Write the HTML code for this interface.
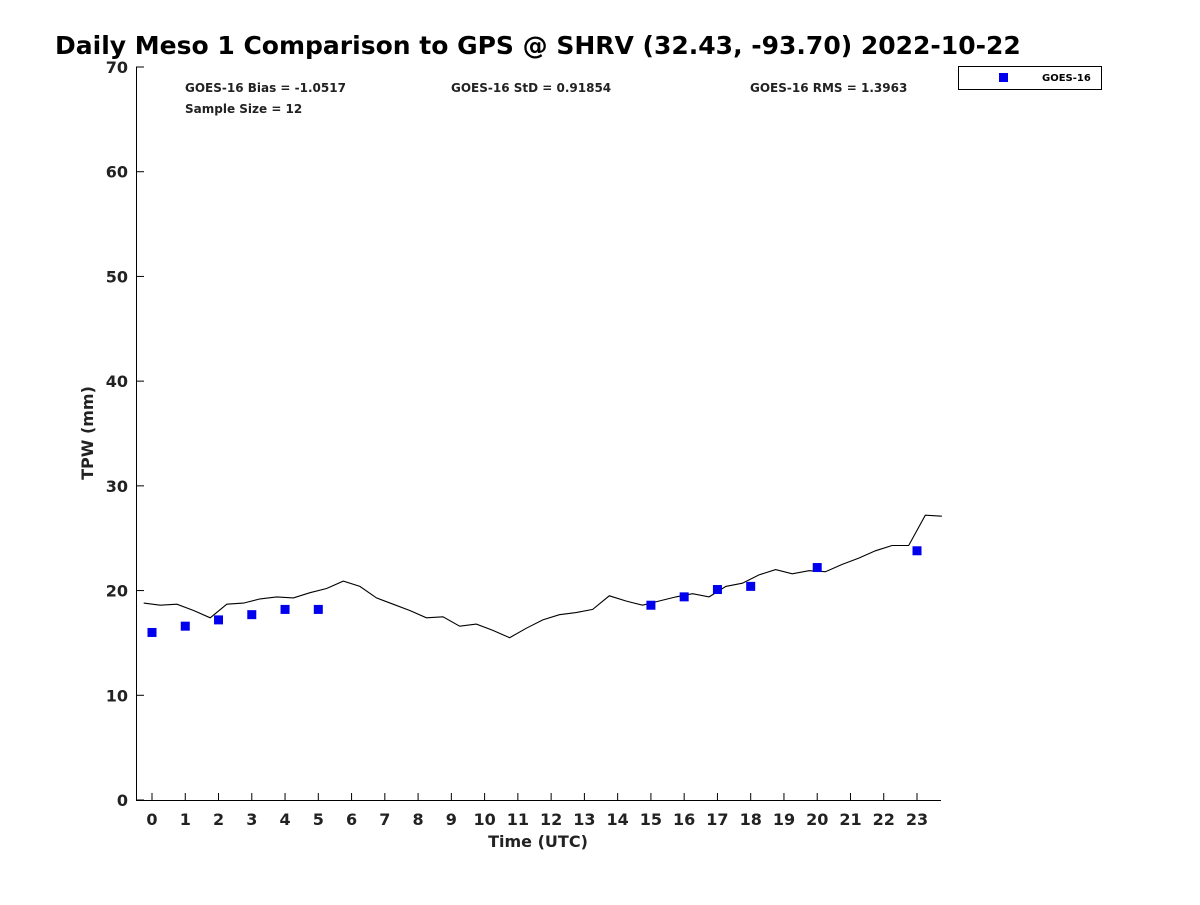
<!DOCTYPE html>
<html><head><meta charset="utf-8"><style>
body{margin:0;background:#fff;font-family:"Liberation Sans","DejaVu Sans",sans-serif}
</style></head><body>
<svg id="chart" width="1200" height="900" xmlns="http://www.w3.org/2000/svg" font-family="DejaVu Sans, Liberation Sans, sans-serif">
<text x="55" y="54" font-size="25" font-weight="bold">Daily Meso 1 Comparison to GPS @ SHRV (32.43, -93.70) 2022-10-22</text>
<g id="plot"></g>
<g font-size="12" font-weight="bold" fill="#222">
<text x="185" y="92">GOES-16 Bias = -1.0517</text>
<text x="451" y="92">GOES-16 StD = 0.91854</text>
<text x="750" y="92">GOES-16 RMS = 1.3963</text>
<text x="185" y="113">Sample Size = 12</text>
</g>
<g>
<rect x="958.5" y="66.5" width="143" height="23" fill="#fff" stroke="#000"/>
<rect x="999" y="73" width="9" height="9" fill="#0000ee"/>
<text x="1042" y="81" font-size="10" font-weight="bold">GOES-16</text>
</g>
<text x="538" y="847" font-size="16" font-weight="bold" text-anchor="middle" fill="#222">Time (UTC)</text>
<text transform="translate(93,433) rotate(-90)" font-size="16" font-weight="bold" text-anchor="middle" fill="#222">TPW (mm)</text>
</svg>
<script>
const gpsTimes=[-0.25,0.25,0.75,1.25,1.75,2.25,2.75,3.25,3.75,4.25,4.75,5.25,5.75,6.25,6.75,7.25,7.75,8.25,8.75,9.25,9.75,10.25,10.75,11.25,11.75,12.25,12.75,13.25,13.75,14.25,14.75,15.25,15.75,16.25,16.75,17.25,17.75,18.25,18.75,19.25,19.75,20.25,20.75,21.25,21.75,22.25,22.75,23.25,23.75];
const gpsValues=[18.8,18.6,18.7,18.1,17.4,18.7,18.8,19.2,19.4,19.3,19.8,20.2,20.9,20.4,19.3,18.7,18.1,17.4,17.5,16.6,16.8,16.2,15.5,16.4,17.2,17.7,17.9,18.2,19.5,19.0,18.6,19.0,19.4,19.7,19.4,20.4,20.7,21.5,22.0,21.6,21.9,21.8,22.5,23.1,23.8,24.3,24.3,27.2,27.1];
const goesTimes=[0,1,2,3,4,5,15,16,17,18,20,23];
const goesValues=[16.0,16.6,17.2,17.7,18.2,18.2,18.6,19.4,20.1,20.4,22.2,23.8];
const xTicks=[0,1,2,3,4,5,6,7,8,9,10,11,12,13,14,15,16,17,18,19,20,21,22,23];
const yTicks=[0,10,20,30,40,50,60,70];
const NS="http://www.w3.org/2000/svg";
const L=136,R=941,T=67,B=800;
const xs=t=>152+(t)*(917-152)/23;
const ys=v=>B-(v)*(B-T)/70;
const g=document.getElementById('plot');
function mk(tag,attrs){const e=document.createElementNS(NS,tag);for(const k in attrs)e.setAttribute(k,attrs[k]);g.appendChild(e);return e;}
let ax=mk('path',{d:`M${L+.5},${T} V${B+.5} H${R}`,fill:'none',stroke:'#000'});


xTicks.forEach(t=>{const x=xs(t);
 const l=mk('line',{x1:x,x2:x,y1:B,y2:B-7,stroke:'#000'});
 
 
 const tx=mk('text',{x:x,y:B+25,'font-size':16,'font-weight':'bold','text-anchor':'middle',fill:'#222'});tx.textContent=t;
 
 });
yTicks.forEach(v=>{const y=ys(v);
 const l=mk('line',{x1:L,x2:L+8,y1:y,y2:y,stroke:'#000'});
 
 
 const tx=mk('text',{x:L-8,y:y+6,'font-size':16,'font-weight':'bold','text-anchor':'end',fill:'#222'});tx.textContent=v;
 
 });
const pts=gpsTimes.map((t,i)=>`${xs(t).toFixed(1)},${ys(gpsValues[i]).toFixed(1)}`).join(' ');
const pl=mk('polyline',{points:pts,fill:'none',stroke:'#000','stroke-width':1.1});


goesTimes.forEach((t,i)=>{const r=mk('rect',{x:xs(t)-4.5,y:ys(goesValues[i])-4.5,width:9,height:9,fill:'#0000ee'});
 
 });
</script>
</body></html>
